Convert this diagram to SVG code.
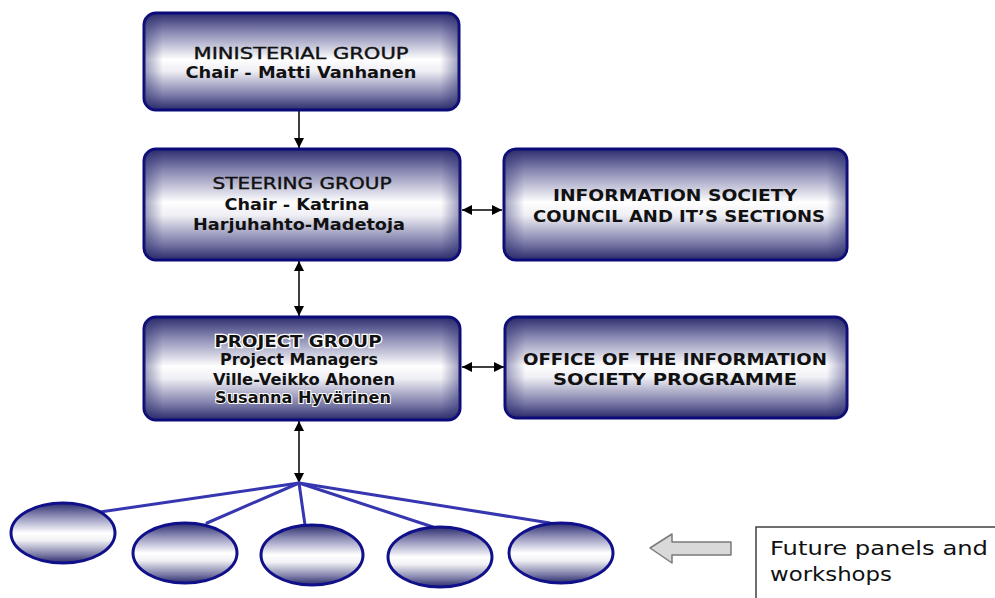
<svg xmlns="http://www.w3.org/2000/svg" width="995" height="598" viewBox="0 0 995 598">
<defs>
<linearGradient id="gv" x1="0" y1="0" x2="0" y2="1">
<stop offset="0" stop-color="#2c2c6e"/>
<stop offset="0.2" stop-color="#8a8ab4"/>
<stop offset="0.48" stop-color="#ffffff"/>
<stop offset="0.6" stop-color="#eeeef4"/>
<stop offset="0.85" stop-color="#7a7aa8"/>
<stop offset="1" stop-color="#2a2a6a"/>
</linearGradient>
<linearGradient id="gh" x1="0" y1="0" x2="1" y2="0">
<stop offset="0" stop-color="#24246a" stop-opacity="0.45"/>
<stop offset="0.06" stop-color="#24246a" stop-opacity="0"/>
<stop offset="0.94" stop-color="#24246a" stop-opacity="0"/>
<stop offset="1" stop-color="#24246a" stop-opacity="0.45"/>
</linearGradient>
<linearGradient id="ge" x1="0" y1="0" x2="0" y2="1">
<stop offset="0" stop-color="#2c2c6e"/>
<stop offset="0.25" stop-color="#9a9ac0"/>
<stop offset="0.5" stop-color="#ffffff"/>
<stop offset="0.62" stop-color="#f2f2f6"/>
<stop offset="0.85" stop-color="#8080aa"/>
<stop offset="1" stop-color="#2a2a6a"/>
</linearGradient>
<marker id="ah" viewBox="0 0 10 10" refX="10" refY="5" markerWidth="10" markerHeight="10" markerUnits="userSpaceOnUse" orient="auto-start-reverse">
<path d="M0,0 L10,5 L0,10 Z" fill="#000"/>
</marker>
</defs>
<style>
.box{fill:url(#gv);stroke:#0a0a7a;stroke-width:3}
.side{fill:url(#gh);stroke:none}
.ell{fill:url(#ge);stroke:#10108a;stroke-width:3}
.t{font-family:"DejaVu Sans","Liberation Sans",sans-serif;font-size:16px;fill:#111;text-anchor:middle}
.b{font-weight:bold}
.conn{stroke:#000;stroke-width:1.5;fill:none}
.fan{stroke:#3636b0;stroke-width:3;fill:none;stroke-linecap:round}
.ft{font-family:"DejaVu Sans","Liberation Sans",sans-serif;font-size:19px;fill:#111}
</style>
<rect width="995" height="598" fill="#ffffff"/>

<g id="connectors">
<line class="conn" x1="299" y1="110" x2="299" y2="148" marker-end="url(#ah)"/>
<line class="conn" x1="299" y1="261" x2="299" y2="316" marker-start="url(#ah)" marker-end="url(#ah)"/>
<line class="conn" x1="299" y1="421" x2="299" y2="483" marker-start="url(#ah)" marker-end="url(#ah)"/>
<line class="conn" x1="462" y1="210" x2="502" y2="210" marker-start="url(#ah)" marker-end="url(#ah)"/>
<line class="conn" x1="462" y1="367" x2="504" y2="367" marker-start="url(#ah)" marker-end="url(#ah)"/>
<line class="fan" x1="299" y1="483" x2="100" y2="512"/>
<line class="fan" x1="299" y1="483" x2="207" y2="523"/>
<line class="fan" x1="299" y1="483" x2="305" y2="525"/>
<line class="fan" x1="299" y1="483" x2="433" y2="527"/>
<line class="fan" x1="299" y1="483" x2="550" y2="523"/>
</g>

<g id="ministerial">
<rect class="box" x="144" y="13" width="315" height="97" rx="12"/>
<rect class="side" x="144" y="13" width="315" height="97" rx="12"/>
<text class="t" x="301" y="59" textLength="215" lengthAdjust="spacingAndGlyphs" stroke="#111" stroke-width="0.4">MINISTERIAL GROUP</text>
<text class="t b" x="301" y="78" textLength="231" lengthAdjust="spacingAndGlyphs">Chair - Matti Vanhanen</text>
</g>

<g id="steering">
<rect class="box" x="144" y="149" width="316" height="111" rx="12"/>
<rect class="side" x="144" y="149" width="316" height="111" rx="12"/>
<text class="t" x="302" y="189" textLength="179" lengthAdjust="spacingAndGlyphs" stroke="#111" stroke-width="0.4">STEERING GROUP</text>
<text class="t b" x="297" y="210" textLength="145" lengthAdjust="spacingAndGlyphs">Chair - Katrina</text>
<text class="t b" x="299" y="230" textLength="212" lengthAdjust="spacingAndGlyphs">Harjuhahto-Madetoja</text>
</g>

<g id="council">
<rect class="box" x="504" y="149" width="343" height="111" rx="12"/>
<rect class="side" x="504" y="149" width="343" height="111" rx="12"/>
<text class="t b" x="675" y="201" textLength="244" lengthAdjust="spacingAndGlyphs">INFORMATION SOCIETY</text>
<text class="t b" x="679" y="222" textLength="292" lengthAdjust="spacingAndGlyphs">COUNCIL AND IT’S SECTIONS</text>
</g>

<g id="project">
<rect class="box" x="144" y="317" width="316" height="103" rx="12"/>
<rect class="side" x="144" y="317" width="316" height="103" rx="12"/>
<text class="t b" x="298" y="347" textLength="167" lengthAdjust="spacingAndGlyphs" stroke="#ffffff" stroke-width="2.5" paint-order="stroke">PROJECT GROUP</text>
<text class="t b" x="299" y="365" font-size="15" textLength="158" lengthAdjust="spacingAndGlyphs">Project Managers</text>
<text class="t b" x="304" y="385" font-size="15" textLength="182" lengthAdjust="spacingAndGlyphs">Ville-Veikko Ahonen</text>
<text class="t b" x="303" y="403" font-size="15" textLength="176" lengthAdjust="spacingAndGlyphs" stroke="#ffffff" stroke-width="2" paint-order="stroke">Susanna Hyvärinen</text>
</g>

<g id="office">
<rect class="box" x="505" y="317" width="342" height="101" rx="12"/>
<rect class="side" x="505" y="317" width="342" height="101" rx="12"/>
<text class="t b" x="675" y="365" textLength="304" lengthAdjust="spacingAndGlyphs">OFFICE OF THE INFORMATION</text>
<text class="t b" x="675" y="385" textLength="244" lengthAdjust="spacingAndGlyphs">SOCIETY PROGRAMME</text>
</g>

<g id="panel1"><ellipse class="ell" cx="63" cy="533" rx="52" ry="30"/></g>
<g id="panel2"><ellipse class="ell" cx="185" cy="553" rx="52" ry="30"/></g>
<g id="panel3"><ellipse class="ell" cx="312" cy="555" rx="51" ry="30"/></g>
<g id="panel4"><ellipse class="ell" cx="440" cy="557" rx="52" ry="30"/></g>
<g id="panel5"><ellipse class="ell" cx="561" cy="553" rx="52" ry="30"/></g>

<g id="pointer">
<path d="M650,548 L672,534 L672,542 L731,542 L731,555 L672,555 L672,563 Z" fill="#d9d9d9" stroke="#7a7a7a" stroke-width="1.5" stroke-linejoin="round"/>
</g>

<g id="legend">
<rect x="756" y="527" width="260" height="100" fill="#ffffff" stroke="#404040" stroke-width="1.5"/>
<text class="ft" x="770" y="555" textLength="218" lengthAdjust="spacingAndGlyphs">Future panels and</text>
<text class="ft" x="770" y="581" textLength="122" lengthAdjust="spacingAndGlyphs">workshops</text>
</g>
</svg>
